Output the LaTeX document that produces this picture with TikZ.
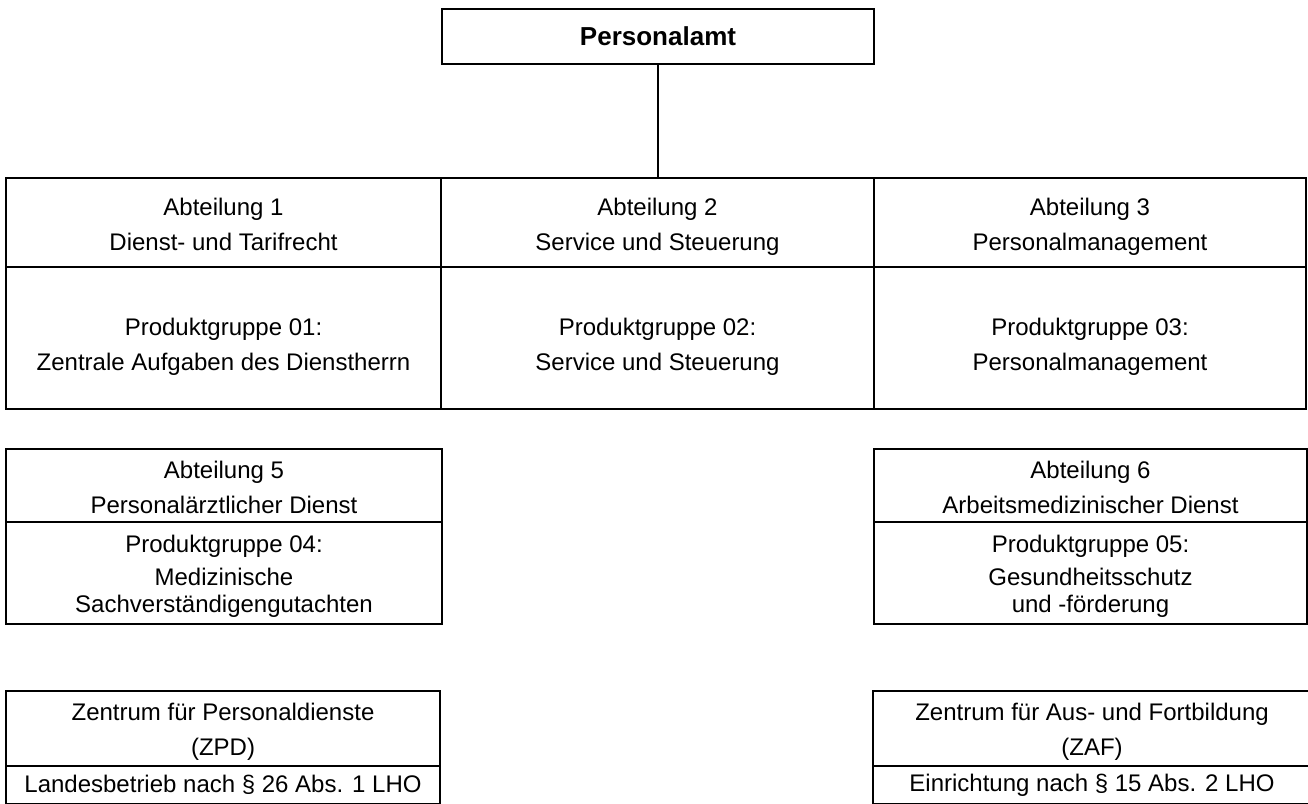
\documentclass[tikz,border=0pt]{standalone}
\usepackage{fontspec}
\setmainfont{Liberation Sans}
\newcommand\padtop[1]{\rule{0pt}{#1}}
\newcommand\padbot[1]{\rule[-#1]{0pt}{#1}}
\begin{document}
\begin{tikzpicture}[x=1pt,y=-1pt,
  cell/.style={draw,line width=2pt,rectangle,inner sep=0pt,align=center,
    font=\fontsize{24}{35}\selectfont},
  tight/.style={font=\fontsize{24}{27}\selectfont},
  head/.style={font=\fontsize{26}{30}\bfseries\selectfont},
  conn/.style={line width=2pt}]
\useasboundingbox (0,0) rectangle (1308,803);
\clip (0,0) rectangle (1308,803);
% top
\node[cell,head,minimum width=432pt,minimum height=55pt] (pa) at (658,36.5) {Personalamt};
% row 1
\node[cell,minimum width=435pt,minimum height=89pt] (a1h) at (223.5,222.5) {\padtop{30.5pt}Abteilung 1\strut\\Dienst- und Tarifrecht\strut};
\node[cell,minimum width=435pt,minimum height=142pt] (a1b) at (223.5,338) {\padtop{39.5pt}Produktgruppe 01:\strut\\Zentrale Aufgaben des Dienstherrn\strut};
\node[cell,minimum width=433pt,minimum height=89pt] (a2h) at (657.5,222.5) {\padtop{30.5pt}Abteilung 2\strut\\Service und Steuerung\strut};
\node[cell,minimum width=433pt,minimum height=142pt] (a2b) at (657.5,338) {\padtop{39.5pt}Produktgruppe 02:\strut\\Service und Steuerung\strut};
\node[cell,minimum width=432pt,minimum height=89pt] (a3h) at (1090,222.5) {\padtop{30.5pt}Abteilung 3\strut\\Personalmanagement\strut};
\node[cell,minimum width=432pt,minimum height=142pt] (a3b) at (1090,338) {\padtop{39.5pt}Produktgruppe 03:\strut\\Personalmanagement\strut};
% row 2
\node[cell,minimum width=436pt,minimum height=73pt] (a5h) at (224,485.5) {\padtop{27.5pt}Abteilung 5\\Personalärztlicher Dienst\padbot{7.5pt}};
\node[cell,tight,minimum width=436pt,minimum height=102pt] (a5b) at (224,573) {\padtop{28pt}Produktgruppe 04:\strut\\[6pt]Medizinische\strut\\Sachverständigengutachten\strut};
\node[cell,minimum width=433pt,minimum height=73pt] (a6h) at (1090.5,485.5) {\padtop{27.5pt}Abteilung 6\\Arbeitsmedizinischer Dienst\padbot{7.5pt}};
\node[cell,tight,minimum width=433pt,minimum height=102pt] (a6b) at (1090.5,573) {\padtop{28pt}Produktgruppe 05:\strut\\[6pt]Gesundheitsschutz\strut\\und -förderung\strut};
% row 3
\node[cell,minimum width=434pt,minimum height=75pt] (zpdh) at (223,728.5) {\padtop{28.5pt}Zentrum für Personaldienste\strut\\(ZPD)\strut};
\node[cell,minimum width=434pt,minimum height=38pt] (zpdb) at (223,785) {Landesbetrieb nach § 26 Abs. 1 LHO};
\node[cell,minimum width=438pt,minimum height=75pt] (zafh) at (1092,728.5) {\padtop{28.5pt}Zentrum für Aus- und Fortbildung\strut\\(ZAF)\strut};
\node[cell,minimum width=438pt,minimum height=38pt] (zafb) at (1092,785) {Einrichtung nach § 15 Abs. 2 LHO};
% connector
\draw[conn] (pa.south) -- (pa.south |- a2h.north);
\end{tikzpicture}
\end{document}
